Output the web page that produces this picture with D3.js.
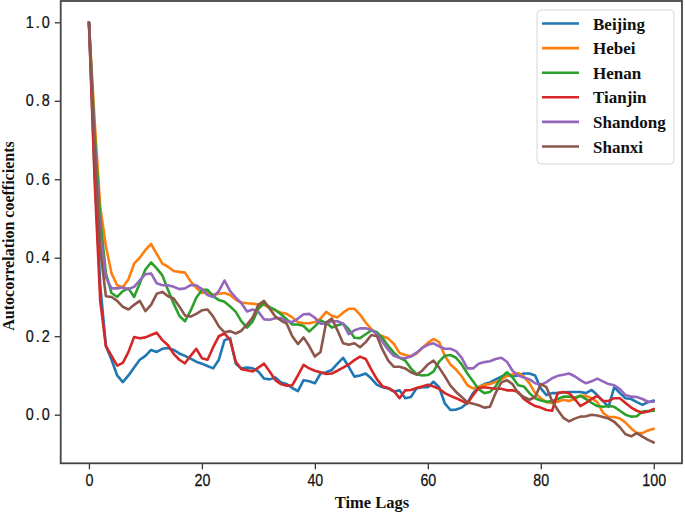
<!DOCTYPE html>
<html><head><meta charset="utf-8">
<script src="https://cdn.jsdelivr.net/npm/d3@7"></script>
<style>
html,body{margin:0;padding:0;background:#fff;}
svg{display:block;}
.tick text{font-family:"Liberation Sans Narrow","Arial Narrow","Liberation Sans",sans-serif;}
</style></head>
<body><svg id="chart" width="685" height="513"></svg>
<script>
const lags = d3.range(0, 101);
const xTicks = [0, 20, 40, 60, 80, 100];
const yTicks = [0.0, 0.2, 0.4, 0.6, 0.8, 1.0];
const seriesNames = ["Beijing", "Hebei", "Henan", "Tianjin", "Shandong", "Shanxi"];
const colors = ["#1f77b4", "#ff7f0e", "#2ca02c", "#d62728", "#9467bd", "#8c564b"];

const beijing = [1.0,0.62,0.33,0.175,0.14,0.1,0.083,0.1,0.12,0.14,0.15,0.165,0.16,0.168,0.17,0.165,0.156,0.15,0.143,0.135,
0.13,0.124,0.118,0.14,0.19,0.195,0.13,0.118,0.12,0.118,0.11,0.092,0.09,0.095,0.082,0.078,0.068,0.06,0.088,0.085,
0.08,0.105,0.108,0.114,0.13,0.145,0.122,0.097,0.1,0.105,0.092,0.076,0.07,0.067,0.059,0.062,0.042,0.045,0.067,0.07,
0.07,0.084,0.07,0.029,0.012,0.013,0.018,0.03,0.055,0.07,0.078,0.082,0.09,0.097,0.1,0.098,0.1,0.105,0.105,0.1,
0.067,0.05,0.055,0.055,0.057,0.058,0.058,0.058,0.055,0.063,0.05,0.035,0.02,0.07,0.055,0.042,0.04,0.032,0.025,0.032,0.036];

const hebei = [1.0,0.75,0.53,0.43,0.36,0.33,0.325,0.345,0.385,0.4,0.42,0.435,0.41,0.385,0.377,0.366,0.364,0.362,0.34,0.324,
0.31,0.312,0.306,0.308,0.31,0.305,0.293,0.286,0.284,0.283,0.281,0.28,0.272,0.266,0.26,0.257,0.248,0.236,0.233,0.233,
0.236,0.245,0.262,0.252,0.248,0.26,0.27,0.27,0.255,0.235,0.218,0.205,0.2,0.194,0.18,0.157,0.152,0.149,0.156,0.17,
0.183,0.193,0.185,0.15,0.128,0.115,0.098,0.075,0.067,0.07,0.076,0.078,0.083,0.09,0.098,0.103,0.106,0.097,0.08,0.055,
0.042,0.032,0.03,0.033,0.038,0.035,0.04,0.048,0.048,0.042,0.032,0.005,-0.006,-0.006,-0.01,-0.02,-0.035,-0.047,-0.047,-0.04,-0.036];

const henan = [1.0,0.72,0.5,0.36,0.31,0.3,0.315,0.322,0.3,0.335,0.37,0.388,0.373,0.355,0.318,0.283,0.252,0.238,0.265,0.298,
0.318,0.318,0.302,0.292,0.288,0.276,0.262,0.238,0.222,0.238,0.27,0.284,0.274,0.267,0.256,0.243,0.23,0.23,0.226,0.212,
0.225,0.24,0.234,0.222,0.228,0.232,0.218,0.196,0.195,0.205,0.215,0.21,0.195,0.175,0.158,0.145,0.138,0.118,0.103,0.1,
0.101,0.11,0.135,0.15,0.152,0.145,0.128,0.105,0.085,0.065,0.055,0.058,0.072,0.095,0.108,0.095,0.075,0.072,0.055,0.042,
0.036,0.033,0.035,0.04,0.046,0.046,0.043,0.048,0.04,0.03,0.022,0.02,0.022,0.02,0.01,0.0,-0.005,-0.004,0.008,0.009,0.01];

const tianjin = [1.0,0.6,0.29,0.175,0.15,0.125,0.132,0.16,0.198,0.195,0.197,0.203,0.209,0.19,0.177,0.155,0.14,0.131,0.15,0.168,
0.144,0.14,0.172,0.2,0.207,0.19,0.135,0.116,0.113,0.11,0.12,0.13,0.11,0.088,0.078,0.074,0.075,0.1,0.127,0.118,
0.112,0.108,0.104,0.105,0.112,0.12,0.128,0.139,0.148,0.142,0.115,0.09,0.072,0.068,0.06,0.042,0.062,0.063,0.068,0.072,
0.076,0.072,0.066,0.055,0.048,0.042,0.035,0.028,0.05,0.068,0.07,0.068,0.066,0.066,0.062,0.062,0.058,0.04,0.03,0.022,
0.018,0.012,0.01,0.055,0.058,0.055,0.04,0.022,0.03,0.04,0.048,0.035,0.035,0.042,0.042,0.03,0.018,0.01,0.005,0.008,0.015];

const shandong = [1.0,0.7,0.46,0.35,0.322,0.322,0.324,0.32,0.326,0.342,0.358,0.36,0.335,0.33,0.33,0.326,0.32,0.322,0.33,0.33,
0.32,0.305,0.3,0.315,0.342,0.315,0.298,0.284,0.263,0.268,0.262,0.243,0.242,0.246,0.246,0.238,0.236,0.245,0.256,0.257,
0.247,0.232,0.232,0.238,0.238,0.232,0.205,0.215,0.22,0.22,0.216,0.205,0.185,0.165,0.15,0.145,0.144,0.148,0.158,0.17,
0.178,0.182,0.174,0.168,0.168,0.162,0.145,0.118,0.118,0.13,0.134,0.136,0.142,0.145,0.135,0.112,0.1,0.095,0.09,0.08,
0.076,0.083,0.093,0.099,0.102,0.105,0.098,0.088,0.08,0.085,0.092,0.085,0.078,0.075,0.065,0.05,0.046,0.045,0.04,0.033,0.033];

const shanxi = [1.0,0.68,0.42,0.302,0.3,0.29,0.275,0.268,0.28,0.29,0.264,0.28,0.308,0.313,0.302,0.296,0.276,0.253,0.25,0.257,
0.266,0.268,0.25,0.225,0.21,0.213,0.207,0.214,0.23,0.248,0.28,0.29,0.27,0.25,0.24,0.232,0.2,0.18,0.197,0.175,
0.148,0.16,0.235,0.245,0.215,0.182,0.178,0.182,0.172,0.185,0.203,0.2,0.165,0.138,0.122,0.122,0.118,0.108,0.102,0.112,
0.128,0.138,0.12,0.098,0.074,0.058,0.045,0.032,0.028,0.024,0.018,0.02,0.055,0.082,0.088,0.078,0.055,0.045,0.038,0.045,
0.078,0.07,0.035,0.012,-0.008,-0.017,-0.01,-0.005,-0.004,0.0,-0.002,-0.006,-0.01,-0.018,-0.032,-0.05,-0.055,-0.047,-0.056,-0.064,-0.071];

const seriesValues = [beijing, hebei, henan, tianjin, shandong, shanxi];

const svg = d3.select("#chart");
const L = 60.7, R = 682, T = 1, B = 463.3;
const x = d3.scaleLinear().domain([-5, 105]).range([L, R]);
const y = d3.scaleLinear().domain([-0.1239, 1.0543]).range([B, T]);

// lines
const line = d3.line().x((d, i) => x(lags[i])).y(d => y(d));
const g = svg.append("g");
seriesValues.forEach((vals, k) => {
  g.append("path").datum(vals)
    .attr("d", line)
    .attr("fill", "none")
    .attr("stroke", colors[k])
    .attr("stroke-width", 2.6)
    .attr("stroke-linejoin", "round")
    .attr("stroke-linecap", "round");
});

// axes
const xAxis = d3.axisBottom(x).tickValues(xTicks).tickFormat(d3.format("d")).tickSize(6).tickPadding(5);
const yAxis = d3.axisLeft(y).tickValues(yTicks).tickFormat(d3.format(".1f")).tickSize(6).tickPadding(5);
const gx = svg.append("g").attr("transform", `translate(0,${B})`).call(xAxis);
const gy = svg.append("g").attr("transform", `translate(${L},0)`).call(yAxis);
[gx, gy].forEach(a => {
  a.select(".domain").remove();
  a.selectAll(".tick line").attr("stroke", "#333").attr("stroke-width", 1.3);
  a.selectAll(".tick text").attr("fill", "#111").attr("font-size", 17)
    .attr("stroke", "#111").attr("stroke-width", 0.25);
});
gx.selectAll(".tick text").attr("transform", "scale(0.84,1)");
gy.selectAll(".tick text").attr("letter-spacing", 2.2).attr("font-size", 16)
  .attr("x", -10).attr("transform", "scale(0.9,1)");

// frame
svg.append("rect").attr("x", L).attr("y", T).attr("width", R - L).attr("height", B - T)
  .attr("fill", "none").attr("stroke", "#444").attr("stroke-width", 1.8);

// axis labels
svg.append("text").attr("x", 372).attr("y", 508).attr("text-anchor", "middle")
  .attr("font-family", "Liberation Serif, Times New Roman, serif").attr("font-weight", "bold")
  .attr("font-size", 16.5).attr("fill", "#111").text("Time Lags");
svg.append("text").attr("transform", "translate(14,236) rotate(-90)").attr("text-anchor", "middle")
  .attr("font-family", "Liberation Serif, Times New Roman, serif").attr("font-weight", "bold")
  .attr("font-size", 16).attr("fill", "#111").text("Autocorrelation coefficients");

// legend
const leg = svg.append("g");
leg.append("rect").attr("x", 537).attr("y", 10).attr("width", 137).attr("height", 154)
  .attr("rx", 4).attr("fill", "#fff").attr("stroke", "#d6d6d6").attr("stroke-width", 1);
seriesNames.forEach((name, k) => {
  const cy = 23.5 + k * 24.6;
  leg.append("line").attr("x1", 542).attr("x2", 579).attr("y1", cy).attr("y2", cy)
    .attr("stroke", colors[k]).attr("stroke-width", 2.6);
  leg.append("text").attr("x", 593).attr("y", cy + 6)
    .attr("font-family", "Liberation Serif, Times New Roman, serif").attr("font-weight", "bold")
    .attr("font-size", 17).attr("fill", "#111").text(name);
});
</script></body></html>
